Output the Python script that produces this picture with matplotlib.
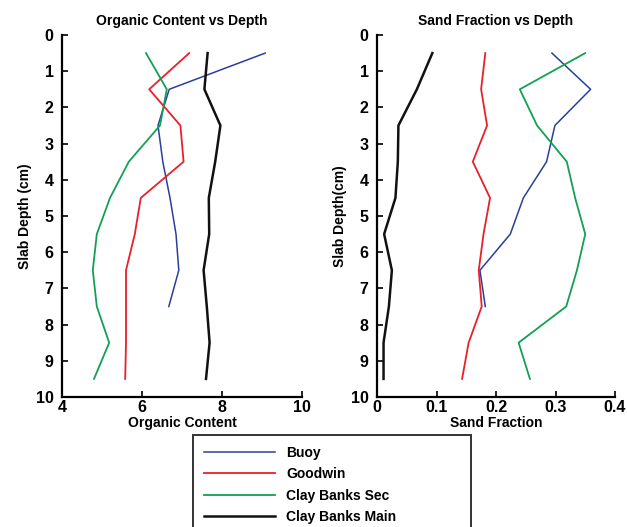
import matplotlib
matplotlib.use("Agg")
import matplotlib.pyplot as plt

plt.rcParams['font.family'] = ['Liberation Sans', 'DejaVu Sans']
plt.rcParams['font.weight'] = 'bold'

depth = [0.5, 1.5, 2.5, 3.5, 4.5, 5.5, 6.5, 7.5, 8.5, 9.5]
depth_buoy = [0.5, 1.5, 2.5, 3.5, 4.5, 5.5, 6.5, 7.5]

series_names = ["Buoy", "Goodwin", "Clay Banks Sec", "Clay Banks Main"]
series_colors = ["#2a3f9a", "#e8202a", "#12a055", "#111111"]

organic_buoy = [9.08, 6.68, 6.40, 6.52, 6.70, 6.85, 6.92, 6.67]
organic_goodwin = [7.18, 6.18, 6.96, 7.04, 5.97, 5.82, 5.60, 5.60, 5.60, 5.58]
organic_sec = [6.10, 6.62, 6.45, 5.67, 5.20, 4.87, 4.77, 4.87, 5.18, 4.80]
organic_main = [7.64, 7.56, 7.96, 7.83, 7.67, 7.68, 7.54, 7.62, 7.69, 7.60]

sand_buoy = [0.294, 0.359, 0.299, 0.285, 0.246, 0.224, 0.173, 0.182]
sand_goodwin = [0.182, 0.175, 0.185, 0.161, 0.190, 0.179, 0.171, 0.176, 0.154, 0.143]
sand_sec = [0.350, 0.240, 0.269, 0.319, 0.333, 0.350, 0.336, 0.318, 0.238, 0.257]
sand_main = [0.093, 0.067, 0.036, 0.035, 0.031, 0.012, 0.025, 0.020, 0.011, 0.011]

organic_ticks = [4, 6, 8, 10]
sand_ticks = [0, 0.1, 0.2, 0.3, 0.4]
depth_ticks = list(range(0, 11))

fig = plt.figure(figsize=(6.27, 5.27), dpi=100)
ax1 = fig.add_axes([62/627, 1-397/527, 240/627, 362/527])
ax2 = fig.add_axes([377/627, 1-397/527, 238/627, 362/527])

lws = [1.1, 1.3, 1.3, 1.8]

def draw(ax, data, depths_list, xlim, xticks, xticklabels, title, xlabel, ylabel):
    handles = []
    for vals, dep, c, lw, name in zip(data, depths_list, series_colors, lws, series_names):
        h, = ax.plot(vals, dep, color=c, lw=lw, label=name)
        handles.append(h)
    ax.set_xlim(*xlim)
    ax.set_ylim(10, 0)
    ax.set_xticks(xticks)
    ax.set_xticklabels(xticklabels)
    ax.set_yticks(depth_ticks)
    ax.spines['top'].set_visible(False)
    ax.spines['right'].set_visible(False)
    for s in ['left', 'bottom']:
        ax.spines[s].set_linewidth(1.6)
    ax.tick_params(direction='in', length=4, width=1.2, labelsize=11.5)
    ax.tick_params(axis='x', pad=2)
    ax.tick_params(axis='y', pad=6)
    ax.set_title(title, fontsize=10, fontweight='bold', pad=7)
    ax.set_xlabel(xlabel, fontsize=10, fontweight='bold', labelpad=1)
    ax.set_ylabel(ylabel, fontsize=10, fontweight='bold', labelpad=3)
    return handles

handles = draw(ax1, [organic_buoy, organic_goodwin, organic_sec, organic_main],
               [depth_buoy, depth, depth, depth], (4, 10), organic_ticks,
               [str(t) for t in organic_ticks],
               "Organic Content vs Depth", "Organic Content", "Slab Depth (cm)")
draw(ax2, [sand_buoy, sand_goodwin, sand_sec, sand_main],
     [depth_buoy, depth, depth, depth], (0, 0.4), sand_ticks,
     ["0", "0.1", "0.2", "0.3", "0.4"],
     "Sand Fraction vs Depth", "Sand Fraction", "Slab Depth(cm)")

leg = fig.legend(handles, series_names, loc='upper left',
                 bbox_to_anchor=(193/627, 1-435/527, 278/627, 0), mode='expand',
                 fontsize=10, frameon=True, fancybox=False, handlelength=5.1,
                 handletextpad=0.8, labelspacing=0.52, borderaxespad=0,
                 borderpad=0.8)
leg.get_frame().set_edgecolor('black')
leg.get_frame().set_linewidth(1.4)
for t in leg.get_texts():
    t.set_fontweight('bold')

fig.savefig("out.png", dpi=100)
